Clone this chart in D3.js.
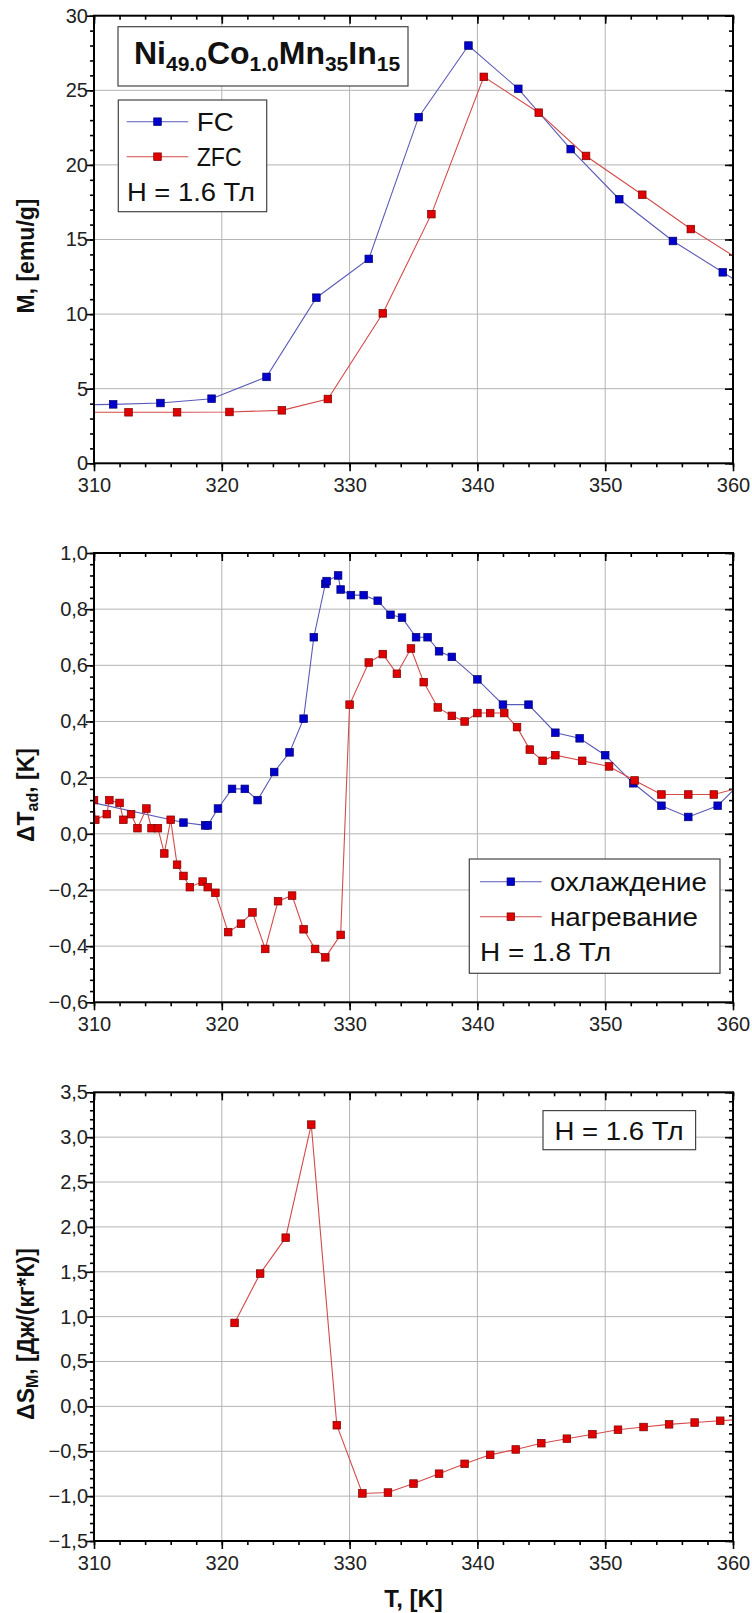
<!DOCTYPE html>
<html><head><meta charset="utf-8">
<script src="https://cdn.jsdelivr.net/npm/d3@7"></script>
<style>
html,body{margin:0;padding:0;background:#fff;}
svg{display:block;}
</style></head>
<body>
<script>
// ---------- DATA ----------
// Panel 1: magnetization M(T)
const T_FC  = [307.6, 311.5, 315.2, 319.2, 323.5, 327.4, 331.5, 335.4, 339.3, 343.2, 347.3, 351.1, 355.3, 359.2, 363.2];
const M_FC  = [3.9, 3.95, 4.04, 4.33, 5.79, 11.1, 13.7, 23.2, 28.0, 25.1, 21.06, 17.7, 14.9, 12.8, 10.7];
const T_ZFC = [308.8, 312.7, 316.5, 320.6, 324.7, 328.3, 332.6, 336.4, 340.5, 344.8, 348.5, 352.9, 356.7, 360.6];
const M_ZFC = [3.42, 3.42, 3.42, 3.44, 3.55, 4.31, 10.05, 16.7, 25.9, 23.5, 20.6, 18.0, 15.7, 13.6];

// Panel 2: adiabatic temperature change
const T_cool  = [309.0, 317.0, 318.7, 318.9, 319.7, 320.8, 321.8, 322.8, 324.1, 325.3, 326.4, 327.2, 328.1, 328.2, 329.1, 329.3, 330.1, 331.1, 332.2, 333.2, 334.1, 335.2, 336.1, 337.0, 338.0, 340.0, 342.0, 344.0, 346.1, 348.0, 350.0, 352.2, 354.4, 356.5, 358.8, 361.0];
const dT_cool = [0.12, 0.04, 0.03, 0.03, 0.09, 0.16, 0.16, 0.12, 0.22, 0.29, 0.41, 0.70, 0.89, 0.90, 0.92, 0.87, 0.85, 0.85, 0.83, 0.78, 0.77, 0.70, 0.70, 0.65, 0.63, 0.55, 0.46, 0.46, 0.36, 0.34, 0.28, 0.18, 0.10, 0.06, 0.10, 0.20];
const T_heat  = [310.0, 310.1, 311.0, 311.2, 312.0, 312.3, 312.9, 313.4, 314.1, 314.5, 315.0, 315.5, 316.0, 316.5, 317.0, 317.5, 318.5, 318.9, 319.5, 320.5, 321.5, 322.4, 323.4, 324.4, 325.5, 326.4, 327.3, 328.1, 329.3, 330.0, 331.5, 332.6, 333.7, 334.8, 335.8, 336.9, 338.0, 339.0, 340.0, 341.0, 342.1, 343.1, 344.1, 345.1, 346.1, 348.2, 350.3, 352.3, 354.4, 356.5, 358.5, 361.0];
const dT_heat = [0.12, 0.05, 0.07, 0.12, 0.11, 0.05, 0.07, 0.02, 0.09, 0.02, 0.02, -0.07, 0.05, -0.11, -0.15, -0.19, -0.17, -0.19, -0.21, -0.35, -0.32, -0.28, -0.41, -0.24, -0.22, -0.34, -0.41, -0.44, -0.36, 0.46, 0.61, 0.64, 0.57, 0.66, 0.54, 0.45, 0.42, 0.40, 0.43, 0.43, 0.43, 0.38, 0.30, 0.26, 0.28, 0.26, 0.24, 0.19, 0.14, 0.14, 0.14, 0.17];

// Panel 3: magnetic entropy change
const T_S  = [321, 323, 325, 327, 329, 331, 333, 335, 337, 339, 341, 343, 345, 347, 349, 351, 353, 355, 357, 359, 361];
const dS_M = [0.93, 1.48, 1.88, 3.14, -0.21, -0.97, -0.96, -0.86, -0.75, -0.64, -0.54, -0.48, -0.41, -0.36, -0.31, -0.26, -0.23, -0.20, -0.18, -0.16, -0.14];

// Axis ticks
const xTicks = [310, 320, 330, 340, 350, 360];
const yTicks1 = [0, 5, 10, 15, 20, 25, 30];
const yTicks2 = [-0.6, -0.4, -0.2, 0.0, 0.2, 0.4, 0.6, 0.8, 1.0];
const yTicks3 = [-1.5, -1.0, -0.5, 0.0, 0.5, 1.0, 1.5, 2.0, 2.5, 3.0, 3.5];

// ---------- STYLE / LAYOUT ----------
const W = 752, H = 1613;
const L = 94, R = 733;
const BLUE_LINE = "#5a5ab8", BLUE_FILL = "#0000cc", BLUE_EDGE = "#00006e";
const RED_LINE = "#d44a4a", RED_FILL = "#e00000", RED_EDGE = "#7a0000";
const FONT = "'Liberation Sans', Arial, sans-serif";

const svg = d3.select("body").append("svg").attr("width", W).attr("height", H);

const x = d3.scaleLinear().domain([310, 360]).range([L, R]);
const commaFmt = d => d3.format(".1f")(d).replace(".", ",");

function panel(id, top, bottom, yDom, yMajor, yMinorStep, yFmt) {
  const y = d3.scaleLinear().domain(yDom).range([bottom, top]);
  const g = svg.append("g");
  g.append("clipPath").attr("id", "clip" + id).append("rect")
    .attr("x", L).attr("y", top).attr("width", R - L).attr("height", bottom - top);
  // grid
  g.append("g").selectAll("line").data(xTicks.slice(1, -1)).join("line")
    .attr("x1", d => x(d)).attr("x2", d => x(d)).attr("y1", top).attr("y2", bottom)
    .attr("stroke", "#b4b4b4").attr("stroke-width", 1);
  g.append("g").selectAll("line").data(yMajor.slice(1, -1)).join("line")
    .attr("x1", L).attr("x2", R).attr("y1", d => y(d)).attr("y2", d => y(d))
    .attr("stroke", "#b4b4b4").attr("stroke-width", 1);

  const xMinor = d3.range(310, 360.001, 2);
  const yMinor = d3.range(yDom[0], yDom[1] + yMinorStep / 2, yMinorStep);
  const styleAxis = sel => {
    sel.select(".domain").remove();
    sel.selectAll("line").attr("stroke", "#000").attr("stroke-width", 1.6);
    sel.selectAll("text").attr("font-family", FONT).attr("font-size", 20).attr("fill", "#222");
  };
  // bottom
  g.append("g").attr("transform", `translate(0,${bottom})`)
    .call(d3.axisBottom(x).tickValues(xMinor).tickSize(4).tickFormat("")).call(styleAxis);
  g.append("g").attr("transform", `translate(0,${bottom})`)
    .call(d3.axisBottom(x).tickValues(xTicks).tickSize(8).tickPadding(7).tickFormat(d3.format("d"))).call(styleAxis);
  // top (inward)
  g.append("g").attr("transform", `translate(0,${top})`)
    .call(d3.axisTop(x).tickValues(xMinor).tickSize(-4).tickFormat("")).call(styleAxis);
  g.append("g").attr("transform", `translate(0,${top})`)
    .call(d3.axisTop(x).tickValues(xTicks).tickSize(-8).tickFormat("")).call(styleAxis);
  // left
  g.append("g").attr("transform", `translate(${L},0)`)
    .call(d3.axisLeft(y).tickValues(yMinor).tickSize(4).tickFormat("")).call(styleAxis);
  g.append("g").attr("transform", `translate(${L},0)`)
    .call(d3.axisLeft(y).tickValues(yMajor).tickSize(8).tickPadding(-2).tickFormat(yFmt)).call(styleAxis);
  // right (inward)
  g.append("g").attr("transform", `translate(${R},0)`)
    .call(d3.axisRight(y).tickValues(yMinor).tickSize(-4).tickFormat("")).call(styleAxis);
  g.append("g").attr("transform", `translate(${R},0)`)
    .call(d3.axisRight(y).tickValues(yMajor).tickSize(-8).tickFormat("")).call(styleAxis);

  const plot = g.append("g").attr("clip-path", `url(#clip${id})`);
  const frame = () => g.append("rect").attr("x", L).attr("y", top)
    .attr("width", R - L).attr("height", bottom - top)
    .attr("fill", "none").attr("stroke", "#000").attr("stroke-width", 2);
  return {g, y, plot, frame, top, bottom};
}

function series(p, xs, ys, lineCol, fill, edge) {
  const pts = xs.map((t, i) => [x(t), p.y(ys[i])]);
  p.plot.append("path").attr("d", d3.line()(pts))
    .attr("fill", "none").attr("stroke", lineCol).attr("stroke-width", 1.1);
  p.plot.append("g").selectAll("rect").data(pts).join("rect")
    .attr("x", d => d[0] - 3.8).attr("y", d => d[1] - 3.8)
    .attr("width", 7.6).attr("height", 7.6)
    .attr("fill", fill).attr("stroke", edge).attr("stroke-width", 0.7);
}

function legendBox(g, x0, y0, w, h) {
  g.append("rect").attr("x", x0).attr("y", y0).attr("width", w).attr("height", h)
    .attr("fill", "#fff").attr("stroke", "#444").attr("stroke-width", 1.2);
}
function plainText(g, tx, cy, label, len) {
  g.append("text").attr("x", tx).attr("y", cy).attr("dy", "0.36em")
    .attr("font-family", FONT).attr("font-size", 25).attr("fill", "#111")
    .attr("textLength", len).attr("lengthAdjust", "spacingAndGlyphs").text(label);
}
function legendEntry(g, lx0, lx1, cy, lineCol, fill, edge, label, tx, len) {
  g.append("line").attr("x1", lx0).attr("x2", lx1).attr("y1", cy).attr("y2", cy)
    .attr("stroke", lineCol).attr("stroke-width", 1.1);
  const mx = (lx0 + lx1) / 2;
  g.append("rect").attr("x", mx - 3.8).attr("y", cy - 3.8).attr("width", 7.6).attr("height", 7.6)
    .attr("fill", fill).attr("stroke", edge).attr("stroke-width", 0.7);
  plainText(g, tx, cy, label, len);
}
function yTitle(parts, cx, cy) {
  const t = svg.append("text").attr("transform", `translate(${cx},${cy}) rotate(-90)`)
    .attr("text-anchor", "middle").attr("font-family", FONT).attr("font-weight", "bold")
    .attr("font-size", 23).attr("fill", "#111");
  parts.forEach(([s, sub]) => {
    const ts = t.append("tspan").text(s);
    if (sub) ts.attr("font-size", 16).attr("baseline-shift", "-28%");
  });
}

// ---------- PANEL 1 ----------
const p1 = panel(1, 15.7, 463.3, [0, 30], yTicks1, 1, d3.format("d"));
series(p1, T_FC, M_FC, BLUE_LINE, BLUE_FILL, BLUE_EDGE);
series(p1, T_ZFC, M_ZFC, RED_LINE, RED_FILL, RED_EDGE);
p1.frame();
legendBox(p1.g, 118, 26.7, 290, 59.3);
{
  const t = p1.g.append("text").attr("x", 134).attr("y", 64)
    .attr("font-family", FONT).attr("font-weight", "bold").attr("font-size", 32).attr("fill", "#111");
  [["Ni", 0], ["49.0", 1], ["Co", 0], ["1.0", 1], ["Mn", 0], ["35", 1], ["In", 0], ["15", 1]].forEach(([s, sub]) => {
    const ts = t.append("tspan").text(s);
    if (sub) ts.attr("font-size", 21).attr("baseline-shift", "-35%");
  });
}
legendBox(p1.g, 118.3, 100, 148.4, 111.7);
legendEntry(p1.g, 126.7, 188.3, 121.7, BLUE_LINE, BLUE_FILL, BLUE_EDGE, "FC", 196.7, 37);
legendEntry(p1.g, 126.7, 188.3, 156.7, RED_LINE, RED_FILL, RED_EDGE, "ZFC", 196.7, 45);
plainText(p1.g, 127, 191.7, "H = 1.6 Тл", 128);
yTitle([["M, [emu/g]", 0]], 34, 256);

// ---------- PANEL 2 ----------
const p2 = panel(2, 553, 1002.3, [-0.6, 1.0], yTicks2, 0.04, commaFmt);
series(p2, T_cool, dT_cool, BLUE_LINE, BLUE_FILL, BLUE_EDGE);
series(p2, T_heat, dT_heat, RED_LINE, RED_FILL, RED_EDGE);
p2.frame();
legendBox(p2.g, 469.3, 859, 250.7, 114.3);
legendEntry(p2.g, 480, 541.7, 881.7, BLUE_LINE, BLUE_FILL, BLUE_EDGE, "охлаждение", 550, 157);
legendEntry(p2.g, 480, 541.7, 916.7, RED_LINE, RED_FILL, RED_EDGE, "нагревание", 550, 148);
plainText(p2.g, 480, 951.7, "H = 1.8 Тл", 131);
yTitle([["ΔT", 0], ["ad", 1], [", [K]", 0]], 34, 795);

// ---------- PANEL 3 ----------
const p3 = panel(3, 1092.3, 1541, [-1.5, 3.5], yTicks3, 0.1, commaFmt);
series(p3, T_S, dS_M, RED_LINE, RED_FILL, RED_EDGE);
p3.frame();
legendBox(p3.g, 543, 1110.6, 152.6, 39.1);
plainText(p3.g, 554.5, 1130.5, "H = 1.6 Тл", 129);
yTitle([["ΔS", 0], ["M", 1], [", [Дж/(кг*К)]", 0]], 34, 1334);

svg.append("text").attr("x", (L + R) / 2).attr("y", 1607).attr("text-anchor", "middle")
  .attr("font-family", FONT).attr("font-weight", "bold").attr("font-size", 24).attr("fill", "#111")
  .text("T, [K]");
</script>
</body></html>
